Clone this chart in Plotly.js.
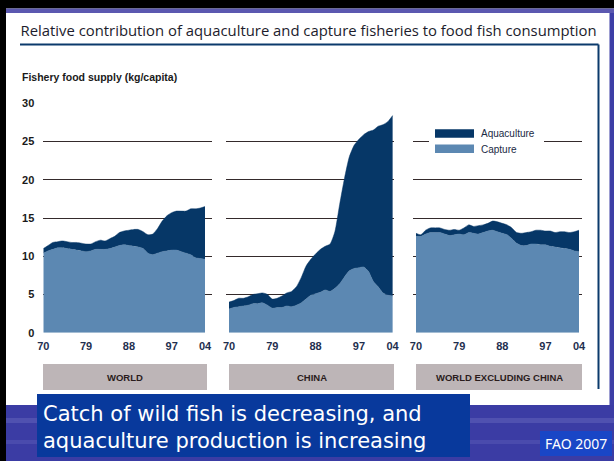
<!DOCTYPE html>
<html><head><meta charset="utf-8">
<script src="https://cdn.plot.ly/plotly-3.0.1.min.js"></script>
<style>html,body{margin:0;padding:0;background:#fff;overflow:hidden}#chart{width:614px;height:461px}</style>
</head><body><div id="chart"></div>
<script>
// ---------------- data ----------------
const years = [1970,1971,1972,1973,1974,1975,1976,1977,1978,1979,1980,1981,1982,1983,1984,1985,1986,1987,1988,1989,1990,1991,1992,1993,1994,1995,1996,1997,1998,1999,2000,2001,2002,2003,2004];
const tickVals = [1970,1979,1988,1997,2004];
const tickText = ['70','79','88','97','04'];
const yTickVals = [0,5,10,15,20,25,30];
const panelNames = ['WORLD','CHINA','WORLD EXCLUDING CHINA'];
const seriesNames = ['Aquaculture','Capture'];
const chartTitle = 'Relative contribution of aquaculture and capture fisheries to food fish consumption';
const yLabel = 'Fishery food supply (kg/capita)';
const captionText = 'Catch of wild fish is decreasing, and<br>aquaculture production is increasing';
const sourceText = 'FAO 2007';

// total supply (capture + aquaculture), kg/capita
const worldTotal   = [11.0,11.4,11.8,11.9,12.0,11.9,11.8,11.8,11.7,11.6,11.6,11.9,12.1,12.0,12.3,12.6,13.1,13.3,13.4,13.5,13.5,13.2,12.8,12.9,13.6,14.6,15.3,15.7,15.9,15.9,15.9,16.2,16.2,16.3,16.5];
const worldCapture = [10.4,10.7,10.9,11.1,11.1,11.0,10.9,10.8,10.7,10.6,10.7,10.9,10.9,10.9,11.0,11.2,11.4,11.5,11.4,11.3,11.2,11.0,10.4,10.2,10.4,10.6,10.7,10.8,10.8,10.6,10.4,10.2,9.8,9.7,9.6];
const chinaTotal   = [4.0,4.2,4.5,4.5,4.7,5.0,5.1,5.2,5.0,4.4,4.5,4.8,5.2,5.4,6.0,7.2,8.7,9.6,10.3,10.9,11.3,11.6,13.2,16.8,20.2,23.0,24.5,25.3,25.9,26.3,26.5,27.0,27.2,27.6,28.4];
const chinaCapture = [3.1,3.3,3.4,3.5,3.6,3.8,3.8,3.9,3.6,3.2,3.3,3.3,3.5,3.4,3.6,3.9,4.4,4.9,5.1,5.3,5.6,5.4,5.8,6.4,7.3,8.1,8.4,8.5,8.6,8.0,6.7,6.0,5.2,4.9,4.8];
const wecTotal     = [13.0,12.8,13.4,13.7,13.7,13.7,13.5,13.4,13.5,13.4,13.7,14.1,13.9,14.0,14.1,14.3,14.6,14.5,14.3,14.1,13.7,13.1,13.0,13.1,13.2,13.4,13.4,13.3,13.3,13.1,13.2,13.2,13.1,13.2,13.4];
const wecCapture   = [12.6,12.6,12.9,13.1,13.1,13.1,12.9,12.7,12.8,12.9,12.8,13.1,13.0,12.9,13.1,13.3,13.4,13.2,13.0,12.8,12.3,11.7,11.4,11.4,11.6,11.6,11.5,11.5,11.3,11.2,11.1,11.0,10.9,10.7,10.6];

// ---------------- styling ----------------
const W = 614, H = 461;
const X = p => p / W;
const Y = p => 1 - p / H;
const AQUA = '#063767';
const CAPT = '#5c88b2';
const boldFont = 'Liberation Sans Narrow, Liberation Sans, Arial, sans-serif';

const panels = [
  {cap: worldCapture, tot: worldTotal, xa: 'x',  ya: 'y'},
  {cap: chinaCapture, tot: chinaTotal, xa: 'x2', ya: 'y2'},
  {cap: wecCapture,   tot: wecTotal,   xa: 'x3', ya: 'y3'}
];

const traces = [];
panels.forEach(p => {
  traces.push({x: years, y: p.cap, xaxis: p.xa, yaxis: p.ya, name: seriesNames[1],
    type: 'scatter', mode: 'lines', fill: 'tozeroy', fillcolor: CAPT,
    line: {color: CAPT, width: 0.5, shape: 'spline', smoothing: 0.6}, hoverinfo: 'skip', showlegend: false});
  traces.push({x: years, y: p.tot, xaxis: p.xa, yaxis: p.ya, name: seriesNames[0],
    type: 'scatter', mode: 'lines', fill: 'tonexty', fillcolor: AQUA,
    line: {color: AQUA, width: 0.5, shape: 'spline', smoothing: 0.6}, hoverinfo: 'skip', showlegend: false});
});

const yDom = [Y(332.7), Y(103.3)];
function xAxis(d0, d1, r0, r1, anchor) {
  return {domain: [X(d0), X(d1)], range: [r0, r1], anchor: anchor,
    tickmode: 'array', tickvals: tickVals, ticktext: tickText, ticks: '',
    showgrid: false, zeroline: false, showline: false, fixedrange: true,
    ticklabelstandoff: 5,
    tickfont: {family: boldFont, size: 11, color: '#1f2f4f', weight: 'bold'}};
}
function yAxis(anchor, labels) {
  return {domain: yDom, range: [0, 30], anchor: anchor,
    tickmode: 'array', tickvals: yTickVals, ticks: '',
    showgrid: true, gridcolor: '#342a2b', gridwidth: 1, zeroline: false, showline: false,
    showticklabels: labels, fixedrange: true, ticklabelstandoff: 8,
    tickfont: {family: boldFont, size: 11, color: '#1a1a1a', weight: 'bold'}};
}

function rect(x0, y0, x1, y1, color, layer) {
  return {type: 'rect', xref: 'paper', yref: 'paper', x0: X(x0), x1: X(x1), y0: Y(y1), y1: Y(y0),
    fillcolor: color, line: {width: 0}, layer: layer || 'above'};
}
function line(x0, y0, x1, y1, color, w) {
  return {type: 'line', xref: 'paper', yref: 'paper', x0: X(x0), x1: X(x1), y0: Y(y0), y1: Y(y1),
    line: {color: color, width: w}, layer: 'above'};
}

const catBoxes = [[43, 207], [229, 394], [416, 582]];

const shapes = [
  rect(0, 0, 6, 461, '#000000'),
  rect(0, 0, 614, 8.5, '#000000'),
  rect(6, 8.5, 614, 13, '#5b58b0'),
  rect(609.5, 13, 614, 461, '#3d3ea6'),
  rect(6, 405, 614, 461, '#3b3ca4'),
  rect(6, 418, 614, 423, 'rgba(120,120,200,0.35)'),
  rect(6, 440, 614, 444, 'rgba(120,120,200,0.25)'),
  line(20, 44.5, 598.5, 44.5, '#0b3a6c', 2),
  line(598.5, 44.5, 598.5, 389, '#0b3a6c', 2),
  rect(429, 124, 544, 158, '#ffffff'),
  rect(435, 129.3, 474, 137.7, AQUA),
  rect(435, 144.5, 474, 153, CAPT),
  rect(37, 394, 470, 457, '#08399c'),
  rect(540, 431, 612, 456, '#1946c6')
];
catBoxes.forEach(b => shapes.push(rect(b[0], 364, b[1], 390, '#bdb5b7')));

const annotations = [
  {text: yLabel, xref: 'paper', yref: 'paper', x: X(20), y: Y(77), xanchor: 'left', yanchor: 'middle',
   showarrow: false, font: {family: boldFont, size: 10.5, color: '#1a1a1a', weight: 'bold'}},
  {text: seriesNames[0], xref: 'paper', yref: 'paper', x: X(479), y: Y(133.5), xanchor: 'left', yanchor: 'middle',
   showarrow: false, font: {family: 'Liberation Sans, Arial, sans-serif', size: 10, color: '#1a2a44'}},
  {text: seriesNames[1], xref: 'paper', yref: 'paper', x: X(479), y: Y(149), xanchor: 'left', yanchor: 'middle',
   showarrow: false, font: {family: 'Liberation Sans, Arial, sans-serif', size: 10, color: '#1a2a44'}},
  {text: captionText, xref: 'paper', yref: 'paper', x: X(41), y: Y(427), xanchor: 'left', yanchor: 'middle', align: 'left',
   showarrow: false, font: {family: 'DejaVu Sans, Noto Sans, sans-serif', size: 21, color: '#ffffff'}},
  {text: sourceText, xref: 'paper', yref: 'paper', x: X(576), y: Y(443.5), xanchor: 'center', yanchor: 'middle',
   showarrow: false, font: {family: 'Noto Sans, DejaVu Sans, sans-serif', size: 14, color: '#ffffff'}}
];
catBoxes.forEach((b, i) => annotations.push({text: panelNames[i], xref: 'paper', yref: 'paper',
  x: X((b[0] + b[1]) / 2), y: Y(377), xanchor: 'center', yanchor: 'middle', showarrow: false,
  font: {family: boldFont, size: 9.5, color: '#2a1c1c', weight: 'bold'}}));

const layout = {
  width: W, height: H, margin: {l: 0, r: 0, t: 0, b: 0},
  paper_bgcolor: '#ffffff', plot_bgcolor: 'rgba(0,0,0,0)', showlegend: false,
  title: {text: chartTitle, x: X(20.5), xanchor: 'left', xref: 'container', y: Y(31), yanchor: 'middle', yref: 'container',
    font: {family: 'Open Sans, Noto Sans, sans-serif', size: 14.85, color: '#1c1c2c'}},
  xaxis: xAxis(43.3, 212, 1970, 2005.47, 'y'),
  yaxis: yAxis('x', true),
  xaxis2: xAxis(226, 394.3, 1969.375, 2004.35, 'y2'),
  yaxis2: yAxis('x2', false),
  xaxis3: xAxis(413.3, 581.7, 1969.44, 2004.56, 'y3'),
  yaxis3: yAxis('x3', false),
  shapes: shapes,
  annotations: annotations
};

Plotly.newPlot('chart', traces, layout, {displayModeBar: false, staticPlot: true});
</script>
</body></html>
